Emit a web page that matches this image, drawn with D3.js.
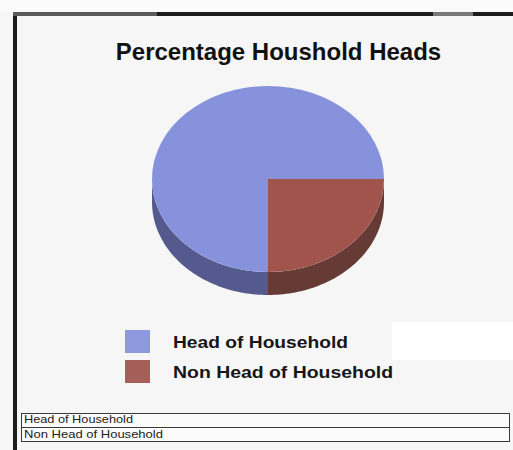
<!DOCTYPE html>
<html>
<head>
<meta charset="utf-8">
<script src="https://cdn.jsdelivr.net/npm/d3@7"></script>
<style>
  html, body { margin: 0; padding: 0; background: #f6f6f6; }
  svg { display: block; }
</style>
</head>
<body>
<svg id="chart" width="513" height="450"></svg>
<script>
// Chart data
const categories = ["Head of Household", "Non Head of Household"];
const values = [75, 25];
const topColors = ["#8792dc", "#a0544b"];
const sideColors = ["#555a8e", "#673b35"];
const legendColors = ["#8f99de", "#a65e58"];
const titleText = "Percentage Houshold Heads";

const svg = d3.select("#chart");
const font = "'Liberation Sans', Arial, sans-serif";

// Faint scan patches on the page
svg.append("rect").attr("x", 392).attr("y", 322).attr("width", 121).attr("height", 38).attr("fill", "#ffffff");
svg.append("rect").attr("x", 0).attr("y", 0).attr("width", 513).attr("height", 11).attr("fill", "#fbfbfb");

// Frame: left bar and segmented top bar
svg.append("rect").attr("x", 13).attr("y", 12).attr("width", 4).attr("height", 438).attr("fill", "#1c1c1c");
const topSegs = [[13, 157, "#5a5a5a"], [157, 433, "#1c1c1c"], [433, 473, "#7a7a7a"], [473, 513, "#1c1c1c"]];
svg.selectAll("rect.topbar").data(topSegs).enter().append("rect")
  .attr("class", "topbar")
  .attr("x", d => d[0]).attr("y", 12).attr("width", d => d[1] - d[0]).attr("height", 4)
  .attr("fill", d => d[2]);

// Title
svg.append("text")
  .attr("x", 278.5).attr("y", 60)
  .attr("text-anchor", "middle")
  .attr("font-family", font).attr("font-weight", "bold").attr("font-size", 24)
  .attr("fill", "#111")
  .text(titleText);

// 3D pie
const cx = 268, cy = 179, rx = 116, ry = 93, depth = 23;
const pie = d3.pie().sort(null).startAngle(Math.PI).endAngle(3 * Math.PI);
const arcs = pie(values);

const px = a => cx + rx * Math.sin(a);
const py = a => cy - ry * Math.cos(a);

// Side walls: only the front half (angles between PI/2 and 3PI/2, mod 2PI) is visible
function sidePath(a0, a1) {
  const n = 60;
  const pts = [];
  for (let i = 0; i <= n; i++) {
    const a = a0 + (a1 - a0) * i / n;
    pts.push([px(a), py(a)]);
  }
  const bottom = pts.slice().reverse().map(p => [p[0], p[1] + depth]);
  return d3.line()(pts.concat(bottom)) + "Z";
}

function visiblePart(s, e) {
  // normalise to [0, 2PI) range handling
  const parts = [];
  for (let k = -1; k <= 1; k++) {
    const lo = Math.PI / 2 + 2 * Math.PI * k, hi = 3 * Math.PI / 2 + 2 * Math.PI * k;
    const a = Math.max(s, lo), b = Math.min(e, hi);
    if (b > a) parts.push([a, b]);
  }
  return parts;
}

const sides = svg.append("g");
arcs.forEach((d, i) => {
  visiblePart(d.startAngle, d.endAngle).forEach(([a, b]) => {
    sides.append("path").attr("d", sidePath(a, b)).attr("fill", sideColors[i]);
  });
});

// Top face: unit arcs squashed into an ellipse
const arcGen = d3.arc().innerRadius(0).outerRadius(rx);
svg.append("g")
  .attr("transform", `translate(${cx},${cy}) scale(1,${ry / rx})`)
  .selectAll("path").data(arcs).enter().append("path")
  .attr("d", arcGen)
  .attr("fill", (d, i) => topColors[i]);

// Legend
const legend = svg.append("g");
const legendWidths = [175, 220];
categories.forEach((c, i) => {
  legend.append("rect")
    .attr("x", 125).attr("y", 330 + i * 30).attr("width", 25).attr("height", 23)
    .attr("fill", legendColors[i]);
  legend.append("text")
    .attr("x", 173).attr("y", 348 + i * 30)
    .attr("font-family", font).attr("font-weight", "bold").attr("font-size", 16.5)
    .attr("textLength", legendWidths[i]).attr("lengthAdjust", "spacingAndGlyphs")
    .attr("fill", "#161616")
    .text(c);
});

// Data table beneath the chart
const table = svg.append("g");
table.append("rect").attr("x", 21.5).attr("y", 413.5).attr("width", 488).attr("height", 28)
  .attr("fill", "#fbfbfb").attr("stroke", "#3a3a3a").attr("stroke-width", 1);
table.append("line").attr("x1", 21.5).attr("x2", 509.5).attr("y1", 427.5).attr("y2", 427.5)
  .attr("stroke", "#3a3a3a").attr("stroke-width", 1);
const tableWidths = [109, 139];
categories.forEach((c, i) => {
  table.append("text")
    .attr("x", 24).attr("y", 423 + i * 15)
    .attr("font-family", font).attr("font-size", 11)
    .attr("textLength", tableWidths[i]).attr("lengthAdjust", "spacingAndGlyphs")
    .attr("fill", "#222")
    .text(c);
});
</script>
</body>
</html>
